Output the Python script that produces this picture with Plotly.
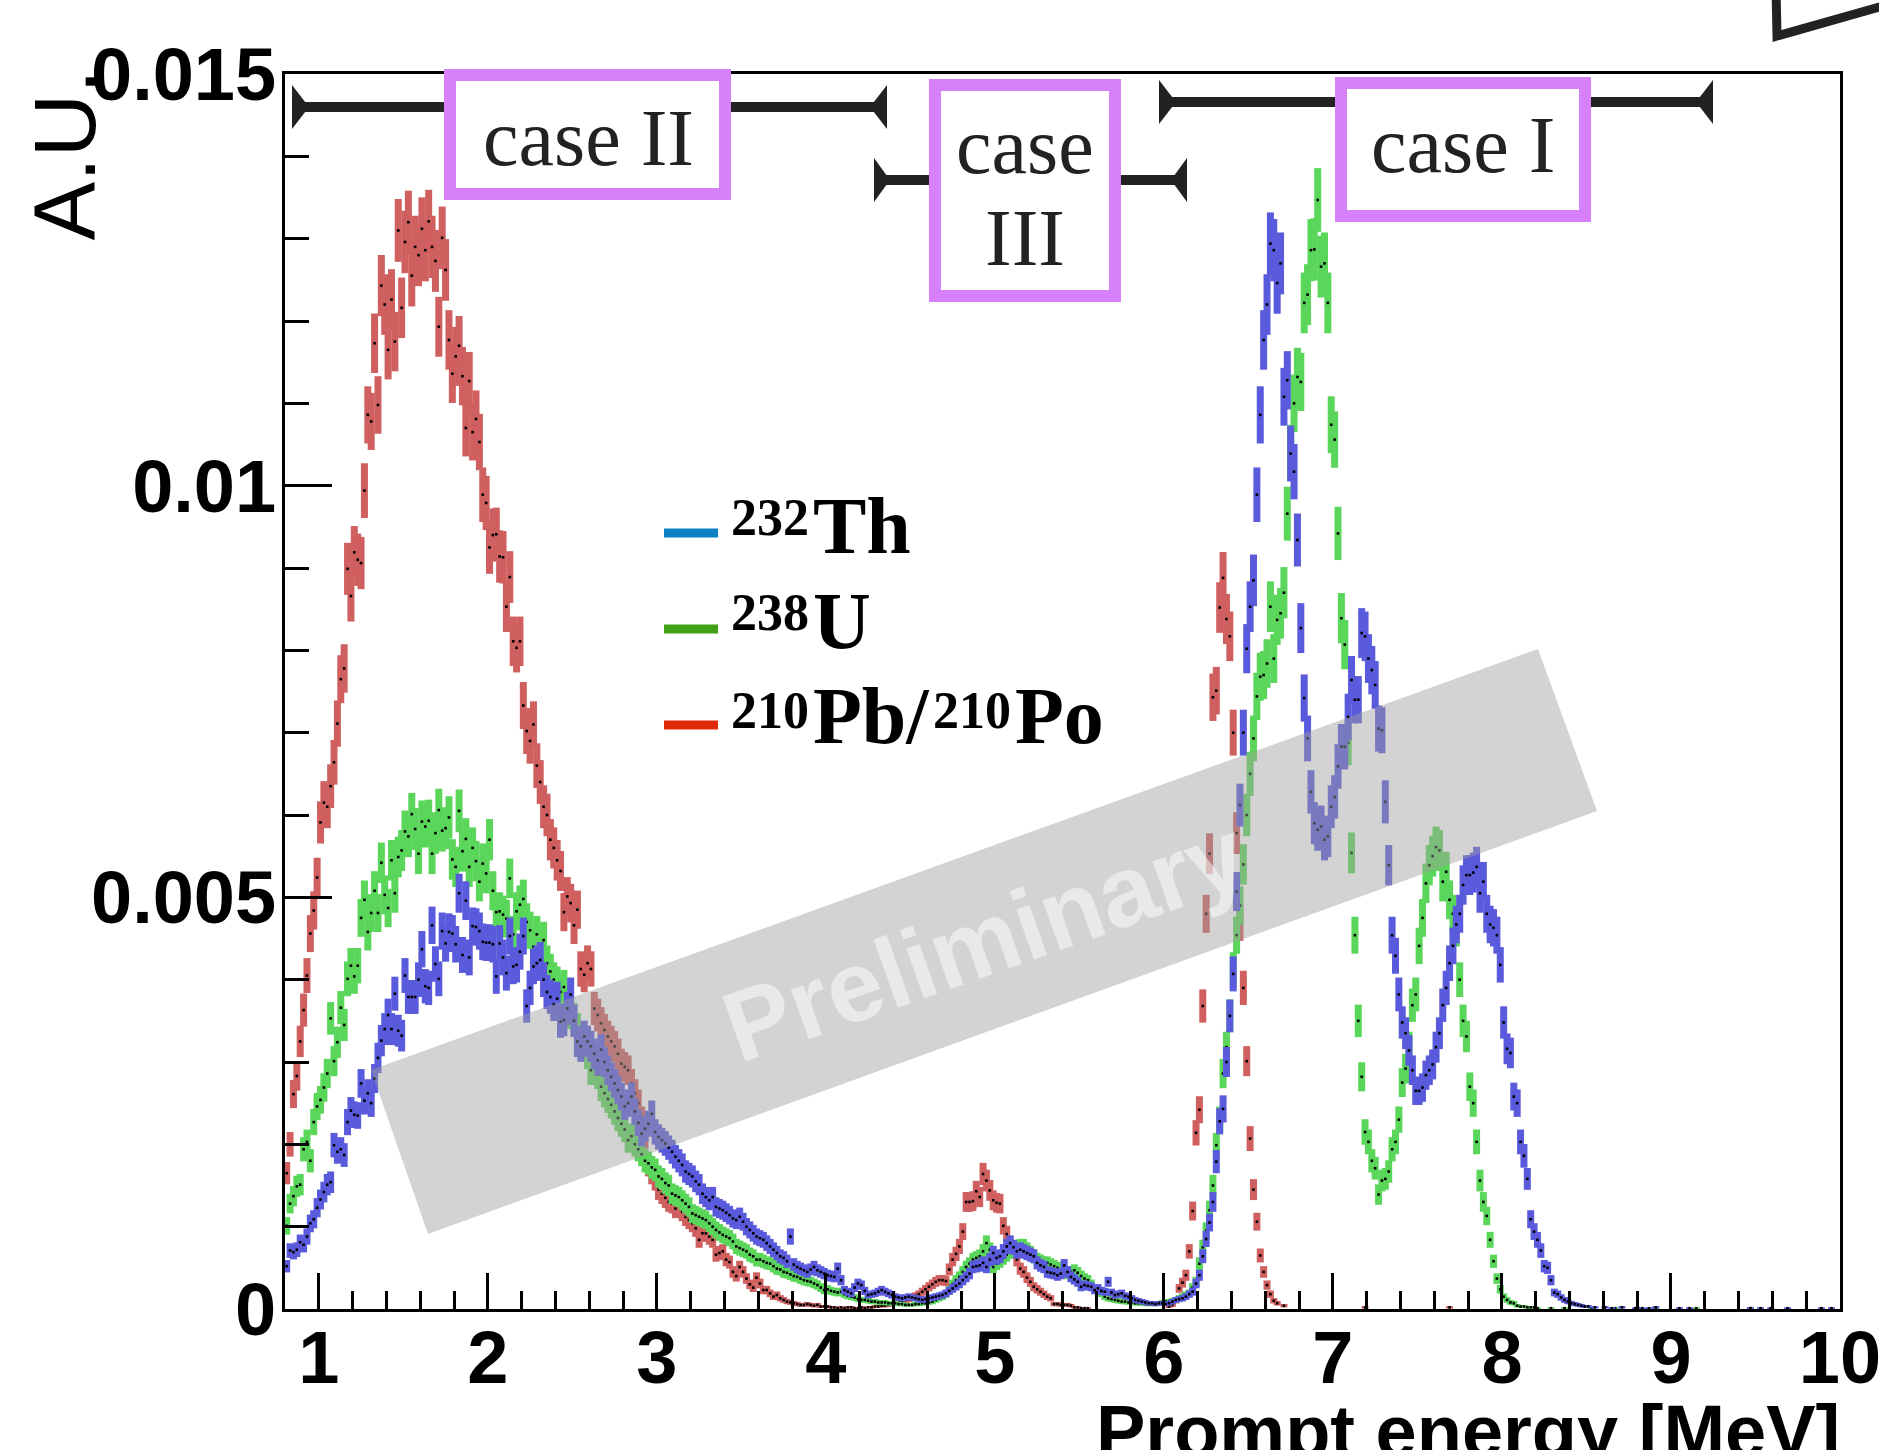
import math
import plotly.graph_objects as go

# ------------------------------------------------------------------
# Data: bin contents in units of 1e-5 A.U., 0.02 MeV wide bins.
# None = empty bin (not drawn).
# ------------------------------------------------------------------
BIN_W = 0.02
N_EVENTS = 90000          # effective statistics used for Poisson error bars

pb_start = 0.81           # 210Pb/210Po
pb_vals = [
    165, 200, 261, 283, 325, 363, 405, 456, 484, 524,
    591, 615, 610, 635, 664, 711, 765, 778, 899, 866,
    919, 910, 906, 994, 1086, 1078, 1173, 1098, 1243, 1220,
    1165, 1226, 1175, 1310, 1216, 1296, 1320, 1255, 1290, 1280,
    1312, 1286, 1321, 1290, 1273, 1193, 1301, 1262, 1177, 1136,
    1157, 1170, 1133, 1070, 1127, 1065, 1081, 1053, 989, 979,
    925, 940, 941, 914, 913, 853, 889, 811, 803, 811,
    733, 702, 690, 710, 660, 640, 610, 600, 570, 560,
    545, 532, 482, 501, 493, 466, 485, 413, 406, 420,
    413, 365, 357, 347, 339, 331, 325, 319, 310, 298,
    294, 290, 274, 262, 250, 230, 210, 175, 165, 157,
    145, 140, 135, 130, 128, 122, 128, 118, 112, 108,
    104, 98, 84, 92, 92, 88, 84, 66, 68, 70,
    60, 57, 45, 40, 51, 45, 37, 30, 26, 38,
    31, 23, 23, 19, 15, 17, 13, 11, 9, 8,
    7, 6, 5, 5, 6, 5, 4, 5, 3, 3,
    3, 2, 2, 1, 2, 1, 2, 2, 1, 1,
    2, 1, 2, 2, 3, 3, 4, 4, 5, 6,
    7, 8, 10, 11, 12, 14, 16, 18, 21, 24,
    27, 30, 33, 35, 35, 34, 48, 60, 67, 76,
    94, 130, 130, 131, 143, 136, 164, 156, 144, 132,
    129, 128, 101, 91, 79, 70, 60, 49, 45, 38,
    33, 27, 24, 21, 18, 15, 13, 6, 6, 5,
    5, 5, 4, 2, 2, 1, 1, 1, None, None,
    None, None, None, None, None, None, None, None, None, None,
    None, None, None, None, None, None, None, None, None, None,
    None, 3, 5, 10, 25, 32, 41, 70, 119, 214,
    242, 368, 480, 553, 743, 751, 852, 888, 838, 817,
    700, 578, 470, 390, 301, 207, 145, 106, 65, 45,
    29, 18, 10, 7, None, 4,
]
pb_tail_e = [7.19, 7.69]
pb_tail_v = [2, 2]

u_start = 0.81            # 238U
u_vals = [
    101, 128, 137, 149, 151, 194, 203, 180, 227, 246,
    254, 269, 286, 353, 301, 324, 366, 345, 401, 417,
    404, 417, 475, 497, 458, 481, 508, 481, 542, 503,
    487, 545, 505, 549, 557, 580, 574, 601, 583, 553,
    592, 586, 593, 553, 578, 606, 581, 584, 597, 546,
    537, 605, 556, 571, 537, 560, 544, 519, 541, 529,
    570, 508, 482, 483, 479, 474, 523, 455, 483, 491,
    498, 470, 460, 440, 455, 430, 448, 420, 410, 400,
    395, 385, 391, 370, 360, 352, 340, 330, 323, 310,
    290, 295, 285, 270, 262, 255, 248, 240, 232, 225,
    218, 205, 210, 200, 194, 188, 180, 177, 172, 169,
    161, 158, 153, 150, 140, 138, 136, 132, 128, 124,
    116, 114, 112, 110, 108, 104, 100, 96, 93, 90,
    88, 86, 82, 76, 74, 72, 70, 66, 64, 60,
    60, 58, 56, 55, 52, 49, 48, 45, 44, 42,
    40, 39, 37, 35, 34, 33, 31, 29, 26, 23,
    24, 22, 21, 20, 21, 18, 16, 15, 14, 12,
    11, 11, 10, 9, 9, 8, 8, 8, 7, 7,
    7, 6, 6, 5, 5, 5, 6, 6, 7, 7,
    8, 9, 11, 13, 15, 18, 23, 30, 35, 39,
    45, 51, 55, 60, 62, 64, 70, 80, 72, 51,
    55, 58, 62, 66, 70, 74, 74, 76, 76, 72,
    68, 64, 60, 58, 56, 56, 54, 52, 50, 47,
    45, 43, 45, 47, 44, 40, 37, 35, 30, 25,
    23, 19, 15, 13, 12, 11, 10, 9, 9, 8,
    8, 7, 7, 7, 6, 6, 6, 6, 7, 8,
    9, 9, 10, 11, 13, 15, 17, 19, 26, 33,
    55, 75, 95, 120, 150, 199, 230, 286, 318, 356,
    412, 454, 490, 540, 600, 650, 693, 744, 768, 770,
    784, 853, 790, 837, 845, 870, 966, 1040, 1100, 1132,
    1126, 1222, 1232, 1286, 1287, 1347, 1266, 1270, 1222, 1074,
    1056, 942, 839, 807, 688, 554, 454, 350, 282, 215,
    203, 180, 171, 139, 156, 158, 167, 194, 203, 230,
    275, 292, 318, 369, 382, 441, 475, 517, 539, 550,
    561, 557, 519, 531, 497, 480, 463, 400, 350, 331,
    270, 250, 203, 156, 130, 113, 84, 58, 37, 24,
    15, 11, 8, 7, 4, 3, 3, 2, 2, 2,
    1,
]
u_tail_e = [8.29, 8.37, 8.53, 8.67, 8.81, 8.91, 9.15, 9.47]
u_tail_v = [1, 1, 1, 1, 1, 1, 1, 1]

th_start = 0.81           # 232Th
th_vals = [
    52, 71, 69, 72, 81, 78, 88, 104, 109, 123,
    133, 142, 151, 154, 199, 191, 194, 187, 227, 241,
    236, 235, 274, 253, 262, 250, 280, 305, 326, 340,
    357, 340, 383, 338, 332, 405, 379, 379, 379, 400,
    437, 392, 390, 466, 419, 401, 459, 444, 458, 456,
    443, 505, 430, 496, 427, 465, 464, 459, 446, 445,
    445, 443, 404, 444, 427, 408, 453, 416, 418, 434,
    453, 368, 390, 416, 420, 424, 400, 385, 379, 370,
    377, 349, 351, 365, 382, 350, 325, 319, 331, 325,
    319, 310, 302, 315, 300, 290, 282, 274, 266, 258,
    246, 250, 258, 240, 226, 213, 219, 225, 237, 215,
    209, 205, 201, 196, 191, 185, 180, 175, 167, 164,
    161, 155, 151, 140, 136, 132, 136, 124, 122, 120,
    117, 114, 110, 108, 112, 106, 100, 96, 92, 88,
    86, 84, 80, 76, 72, 68, 64, 62, 58, 88,
    54, 51, 49, 47, 45, 48, 51, 47, 45, 43,
    41, 40, 39, 49, 35, 23, 21, 19, 26, 31,
    29, 22, 17, 18, 19, 21, 23, 21, 19, 17,
    15, 14, 13, 14, 15, 14, 13, 12, 11, 12,
    13, 14, 15, 16, 17, 19, 22, 25, 28, 31,
    35, 39, 43, 51, 52, 53, 56, 51, 60, 68,
    62, 64, 70, 76, 80, 75, 70, 72, 70, 68,
    66, 64, 56, 53, 51, 45, 44, 43, 41, 43,
    53, 45, 39, 36, 33, 27, 29, 28, 27, 23,
    25, 22, 21, 33, 20, 17, 18, 19, 16, 15,
    13, 11, 10, 9, 8, 7, 7, 6, 7, 7,
    6, 7, 9, 11, 12, 13, 15, 18, 21, 31,
    41, 64, 85, 105, 130, 179, 228, 243, 300, 356,
    407, 507, 612, 700, 802, 853, 885, 989, 1086, 1177,
    1220, 1294, 1286, 1246, 1270, 1108, 1128, 1039, 1017, 934,
    827, 742, 693, 628, 590, 582, 586, 570, 574, 610,
    622, 659, 683, 683, 719, 764, 740, 740, 821, 817,
    790, 776, 758, 705, 703, 616, 539, 454, 429, 382,
    348, 335, 314, 290, 265, 265, 269, 284, 290, 297,
    318, 335, 369, 390, 420, 441, 467, 480, 515, 527,
    527, 530, 537, 505, 519, 480, 467, 463, 454, 418,
    348, 316, 311, 258, 250, 203, 186, 158, 109, 94,
    84, 71, 52, 50, 35, 20, 18, 14, 11, 9,
    7, 6, 5, 4, 3, 3,
]
th_tail_e = [8.55, 8.61, 8.65, 8.71, 8.79, 8.83, 8.87, 8.91,
             9.05, 9.11, 9.47, 9.53, 9.59, 9.69, 9.89, 9.95]
th_tail_v = [2, 2, 1, 2, 1, 1, 1, 2, 1, 1, 1, 1, 1, 1, 1, 1]

x_tick_vals = [1, 2, 3, 4, 5, 6, 7, 8, 9, 10]
y_tick_vals = [0, 0.005, 0.01, 0.015]
y_tick_text = ["0", "0.005", "0.01", "0.015"]

legend_labels = [("232", "Th"), ("238", "U"), ("210", "Pb/", "210", "Po")]
case_labels = ["case II", "case", "III", "case I"]

# ------------------------------------------------------------------
# Styling
# ------------------------------------------------------------------
RED, GREEN, BLUE = "#d05f5f", "#5ad65a", "#5a5adc"
LEG_COLORS = ["#0b80c2", "#42a016", "#e02a0a"]
PINK = "#d680fa"
DARK = "#222222"
SANS = "Liberation Sans, Arial, Helvetica, sans-serif"
SERIF = "Liberation Serif, Times New Roman, serif"

FIG_W, FIG_H = 1879, 1450
M_L, M_R, M_T, M_B = 285, 39, 74, 141
PLOT_W = FIG_W - M_L - M_R
PLOT_H = FIG_H - M_T - M_B


def fx(x):
    return (x - M_L) / PLOT_W


def fy(y):
    return (FIG_H - M_B - y) / PLOT_H


def build(start, vals, tail_e, tail_v):
    xs, ys, es = [], [], []
    for i, v in enumerate(vals):
        if v is None:
            continue
        xs.append(round(start + BIN_W * i, 4))
        ys.append(v * 1e-5)
        es.append(math.sqrt(v * 1e-5 / N_EVENTS))
    for e, v in zip(tail_e, tail_v):
        xs.append(e)
        ys.append(v * 1e-5)
        es.append(math.sqrt(v * 1e-5 / N_EVENTS))
    return xs, ys, es


fig = go.Figure()
for (start, vals, te, tv), col in [
    ((pb_start, pb_vals, pb_tail_e, pb_tail_v), RED),
    ((u_start, u_vals, u_tail_e, u_tail_v), GREEN),
    ((th_start, th_vals, th_tail_e, th_tail_v), BLUE),
]:
    xs, ys, es = build(start, vals, te, tv)
    fig.add_trace(go.Scatter(
        x=xs, y=ys, mode="markers",
        marker=dict(symbol="square", size=2.6, color="black", line=dict(width=0)),
        error_y=dict(type="data", array=es, visible=True, thickness=7, width=0, color=col),
        hoverinfo="skip", showlegend=False,
    ))

shapes = []
# range arrows  (x_left, x_right, y, head half-height, head depth)
for xl, xr, y, hh, hd in [(292, 887, 107, 22, 17), (874, 1187, 180, 22, 16), (1159, 1713, 102, 22, 17)]:
    shapes.append(dict(type="line", xref="paper", yref="paper", layer="above",
                       x0=fx(xl + 8), x1=fx(xr - 8), y0=fy(y), y1=fy(y),
                       line=dict(color=DARK, width=10)))
    for xb, xa in [(xl, xl + hd), (xr, xr - hd)]:
        shapes.append(dict(type="path", xref="paper", yref="paper", layer="above",
                           path=f"M {fx(xb)},{fy(y - hh)} L {fx(xa)},{fy(y)} L {fx(xb)},{fy(y + hh)} Z",
                           fillcolor=DARK, line=dict(width=0)))
# case boxes (outer pixel bounds)
for x0, y0, x1, y1 in [(444, 69, 731, 200), (929, 79, 1121, 302), (1335, 77, 1591, 222)]:
    shapes.append(dict(type="rect", xref="paper", yref="paper", layer="above",
                       x0=fx(x0 + 6), x1=fx(x1 - 6), y0=fy(y1 - 6), y1=fy(y0 + 6),
                       fillcolor="white", line=dict(color=PINK, width=12)))
# legend line samples
for yy, c in zip([533, 629, 725], LEG_COLORS):
    shapes.append(dict(type="line", xref="paper", yref="paper", layer="above",
                       x0=fx(664), x1=fx(718), y0=fy(yy), y1=fy(yy),
                       line=dict(color=c, width=9)))
# "Preliminary" band
band = [(371, 1070), (1538, 649), (1597, 811), (428, 1234)]
shapes.append(dict(type="path", xref="paper", yref="paper", layer="above",
                   path="M " + " L ".join(f"{fx(a)},{fy(b)}" for a, b in band) + " Z",
                   fillcolor="rgba(160,160,160,0.46)", line=dict(width=0)))
# partial frame at the top-right corner
shapes.append(dict(type="path", xref="paper", yref="paper", layer="above",
                   path=f"M {fx(1776)},{fy(-12)} L {fx(1777)},{fy(36)} L {fx(1890)},{fy(4)}",
                   line=dict(color=DARK, width=9)))

ann = []


def text(t, x, y, size, family=SANS, color="black", weight="normal",
         xanchor="center", yanchor="middle", angle=0):
    ann.append(dict(text=t, x=fx(x), y=fy(y), xref="paper", yref="paper",
                    showarrow=False, xanchor=xanchor, yanchor=yanchor, textangle=angle,
                    font=dict(family=family, size=size, color=color, weight=weight)))


# axis titles
text("A.U.", 64, 68, 88, yanchor="top", angle=-90)
text("Prompt energy [MeV]", 1842, 1388, 74, weight="bold", xanchor="right", yanchor="top")
# case labels
text(case_labels[0], 588, 138, 80, family=SERIF, color=DARK)
text(case_labels[1], 1025, 146, 80, family=SERIF, color=DARK)
text(case_labels[2], 1025, 238, 80, family=SERIF, color=DARK)
text(case_labels[3], 1463, 145, 80, family=SERIF, color=DARK)
# legend
for row, (sup_y, main_y) in zip(legend_labels, [(517, 526), (612, 621), (710, 716)]):
    text(row[0], 811, sup_y, 52, family=SERIF, weight="bold", xanchor="right")
    text(row[1], 811, main_y, 80, family=SERIF, weight="bold", xanchor="left")
    if len(row) > 2:
        text(row[2], 931, sup_y, 52, family=SERIF, weight="bold", xanchor="left")
        text(row[3], 1013, main_y, 80, family=SERIF, weight="bold", xanchor="left")
# watermark
text("Preliminary", 984, 940, 100, weight="bold", color="rgba(255,255,255,0.5)", angle=-19.5)

tickfont = dict(family=SANS, size=74, color="black", weight="bold")
fig.update_layout(
    width=FIG_W, height=FIG_H,
    margin=dict(l=M_L, r=M_R, t=M_T, b=M_B, pad=0),
    paper_bgcolor="white", plot_bgcolor="white",
    showlegend=False,
    font=dict(family=SANS),
    xaxis=dict(range=[0.8, 10], tickmode="array", tickvals=x_tick_vals,
               ticktext=[str(v) for v in x_tick_vals],
               ticks="inside", ticklen=36, tickwidth=3, tickcolor="black",
               minor=dict(ticks="inside", ticklen=18, tickwidth=3, dtick=0.2, tick0=0,
                          tickcolor="black", showgrid=False),
               showline=True, linewidth=3, linecolor="black", mirror=True,
               showgrid=False, zeroline=False, tickfont=tickfont, automargin=False,
               ticklabelstandoff=-18, ticklabeloverflow="allow"),
    yaxis=dict(range=[0, 0.015], tickmode="array", tickvals=y_tick_vals, ticktext=y_tick_text,
               ticks="inside", ticklen=47, tickwidth=3, tickcolor="black",
               minor=dict(ticks="inside", ticklen=24, tickwidth=3, dtick=0.001, tick0=0,
                          tickcolor="black", showgrid=False),
               showline=True, linewidth=3, linecolor="black", mirror=True,
               showgrid=False, zeroline=False, tickfont=tickfont, automargin=False,
               ticklabelstandoff=-9, ticklabeloverflow="allow"),
    shapes=shapes,
    annotations=ann,
)

fig.write_html("out.html",
               config={"displayModeBar": False, "staticPlot": True},
               post_script="document.body.style.margin='0';document.body.style.overflow='hidden';")
